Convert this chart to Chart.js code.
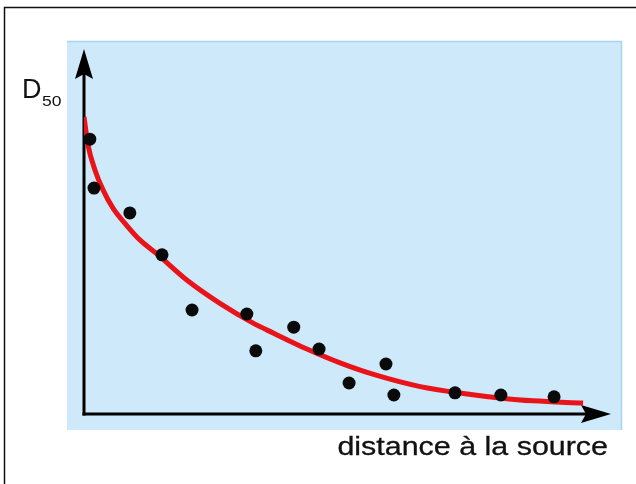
<!DOCTYPE html>
<html>
<head>
<meta charset="utf-8">
<script src="https://cdn.jsdelivr.net/npm/chart.js@4/dist/chart.umd.min.js"></script>
<style>
  html, body { margin: 0; padding: 0; background: #ffffff; }
  #wrap { position: relative; width: 636px; height: 484px; }
  canvas { display: block; }
</style>
</head>
<body>
<div id="wrap"><canvas id="c" width="636" height="484"></canvas></div>
<script>
// Measured samples: distance from the source (x) and D50 (y), arbitrary units 0–100
const sampleX = [1.1, 1.9, 8.7, 14.8, 20.5, 30.9, 32.6, 39.8, 44.6, 50.3, 57.3, 58.8, 70.4, 79.1, 89.2];
const sampleY = [75.3, 61.9, 55.1, 43.6, 28.5, 27.4, 17.3, 23.8, 17.8, 8.5, 13.7, 5.2, 5.8, 5.2, 4.7];

// Fitted decay trend
const trendX = [0, 0.76, 2.09, 3.61, 5.5, 8.2, 10.6, 13.9, 19.5, 25.8, 32.1, 35.9, 42.3, 48.6, 54.8, 63.8, 72.7, 78.9, 85.2, 94.7];
const trendY = [81.4, 73.7, 66.8, 61.4, 56.4, 51.5, 47.7, 43.8, 36.7, 30.3, 24.9, 22.2, 17.8, 14.0, 10.9, 7.5, 5.5, 4.4, 3.6, 3.0];

const yLabel = 'D';
const yLabelSub = '50';
const xLabel = 'distance à la source';

const samples = sampleX.map((x, i) => ({ x, y: sampleY[i] }));
const trend = trendX.map((x, i) => ({ x, y: trendY[i] }));

const FONT = '"Liberation Sans", Arial, Helvetica, sans-serif';

// Page frame and light-blue panel behind the plot
const panelPlugin = {
  id: 'panel',
  beforeDraw(chart) {
    const { ctx, chartArea: a } = chart;
    ctx.save();
    ctx.fillStyle = '#ffffff';
    ctx.fillRect(0, 0, chart.width, chart.height);
    // outer frame (left and top edges)
    ctx.strokeStyle = '#111111';
    ctx.lineWidth = 1.5;
    ctx.beginPath();
    ctx.moveTo(4.5, chart.height);
    ctx.lineTo(4.5, 7.5);
    ctx.lineTo(chart.width, 7.5);
    ctx.stroke();
    // panel
    const px = a.left - 17, py = a.top - 8, pr = a.right + 11, pb = a.bottom + 16;
    ctx.fillStyle = '#cde9fa';
    ctx.fillRect(px, py, pr - px, pb - py);
    ctx.strokeStyle = '#a9d3ef';
    ctx.lineWidth = 1.5;
    ctx.beginPath();
    ctx.moveTo(px, py + 0.5);
    ctx.lineTo(pr - 0.5, py + 0.5);
    ctx.lineTo(pr - 0.5, pb);
    ctx.stroke();
    ctx.restore();
  },
  beforeDatasetsDraw(chart) {
    const { ctx, chartArea: a } = chart;
    ctx.save();
    ctx.strokeStyle = '#000000';
    ctx.fillStyle = '#000000';
    ctx.lineWidth = 3;
    // vertical axis with arrow
    ctx.beginPath();
    ctx.moveTo(a.left, a.bottom + 1.5);
    ctx.lineTo(a.left, a.top + 20);
    ctx.stroke();
    ctx.beginPath();
    ctx.moveTo(a.left, a.top);
    ctx.lineTo(a.left - 9, a.top + 30);
    ctx.lineTo(a.left, a.top + 25);
    ctx.lineTo(a.left + 9, a.top + 30);
    ctx.closePath();
    ctx.fill();
    // horizontal axis with arrow
    ctx.beginPath();
    ctx.moveTo(a.left - 1.5, a.bottom);
    ctx.lineTo(a.right - 20, a.bottom);
    ctx.stroke();
    ctx.beginPath();
    ctx.moveTo(a.right, a.bottom);
    ctx.lineTo(a.right - 30, a.bottom - 9);
    ctx.lineTo(a.right - 25, a.bottom);
    ctx.lineTo(a.right - 30, a.bottom + 9);
    ctx.closePath();
    ctx.fill();
    ctx.restore();
  },
  afterDraw(chart) {
    const { ctx, chartArea: a } = chart;
    ctx.save();
    ctx.fillStyle = '#111111';
    ctx.strokeStyle = '#111111';
    ctx.lineWidth = 0.3;
    ctx.textBaseline = 'alphabetic';
    // y label: D with subscript 50
    ctx.textAlign = 'left';
    ctx.font = '27px ' + FONT;
    ctx.fillText(yLabel, a.left - 62, a.top + 49);
    ctx.save();
    ctx.translate(a.left - 42, a.top + 57);
    ctx.scale(1.25, 1);
    ctx.font = '14px ' + FONT;
    ctx.fillText(yLabelSub, 0, 0);
    ctx.restore();
    // x label, right aligned under the arrow
    ctx.save();
    ctx.translate(a.right - 3, a.bottom + 41);
    ctx.scale(1.17, 1);
    ctx.textAlign = 'right';
    ctx.font = '26px ' + FONT;
    ctx.fillText(xLabel, 0, 0);
    ctx.strokeText(xLabel, 0, 0);
    ctx.restore();
    ctx.restore();
  }
};

new Chart(document.getElementById('c'), {
  type: 'scatter',
  data: {
    datasets: [
      {
        label: 'mesures',
        data: samples,
        pointRadius: 6.5,
        pointHoverRadius: 6.5,
        pointBackgroundColor: '#0a0a0a',
        pointBorderColor: '#0a0a0a',
        pointBorderWidth: 0,
        showLine: false
      },
      {
        label: 'tendance',
        data: trend,
        showLine: true,
        pointRadius: 0,
        borderColor: '#e8141a',
        borderWidth: 5,
        cubicInterpolationMode: 'monotone',
        fill: false
      }
    ]
  },
  options: {
    responsive: false,
    animation: false,
    events: [],
    layout: { padding: { left: 84, right: 25, top: 49, bottom: 70 } },
    plugins: { legend: { display: false }, tooltip: { enabled: false } },
    scales: {
      x: { type: 'linear', min: 0, max: 100, display: false },
      y: { type: 'linear', min: 0, max: 100, display: false }
    }
  },
  plugins: [panelPlugin]
});
</script>
</body>
</html>
